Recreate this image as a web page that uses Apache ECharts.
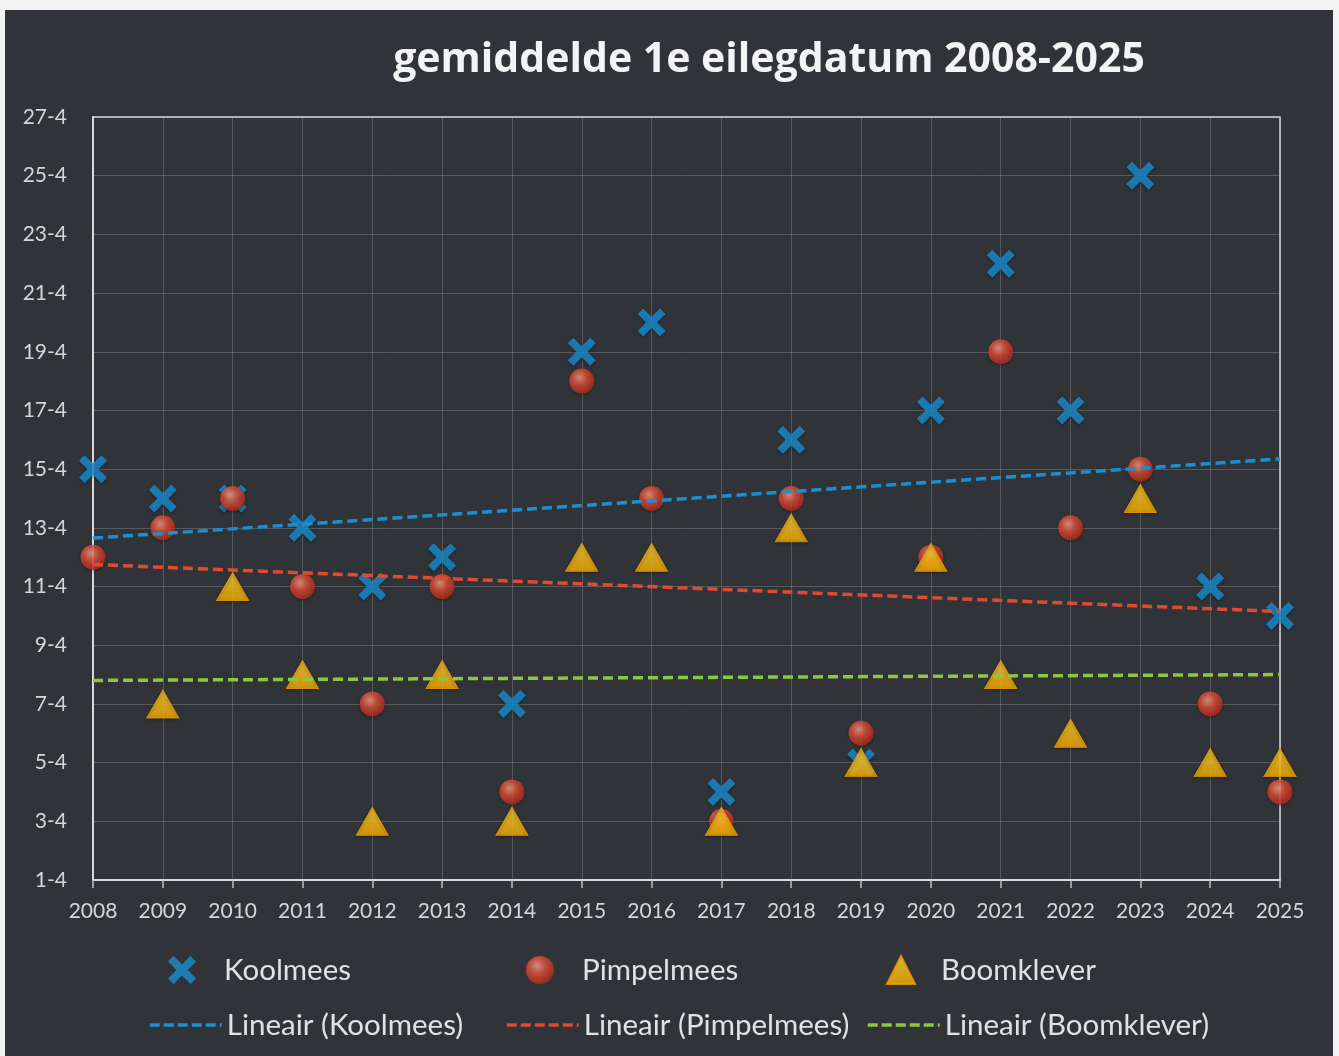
<!DOCTYPE html>
<html>
<head>
<meta charset="utf-8">
<script src="https://cdn.jsdelivr.net/npm/echarts@6/dist/echarts.min.js"></script>
<style>
html,body{margin:0;padding:0;background:#f3f3f3;width:1339px;height:1056px;overflow:hidden;}
#c{position:absolute;left:5px;top:10px;width:1328px;height:1046px;}
</style>
</head>
<body>
<div id="c"></div>
<script>
// ---- data (day of April) ----
var years = [2008,2009,2010,2011,2012,2013,2014,2015,2016,2017,2018,2019,2020,2021,2022,2023,2024,2025];
var koolmees   = [15,14,14,13,11,12,7,19,20,4,16,5,17,22,17,25,11,10];
var pimpelmees = [12,13,14,11,7,11,4,18,14,3,14,6,12,19,13,15,7,4];
var boomklever = [null,7,11,8,3,8,3,12,12,3,13,5,12,8,6,14,5,5];
// trend line end points (2008, 2025)
var trendYears = [2008, 2025];
var trendKool   = [12.65, 15.35];
var trendPimpel = [11.75, 10.15];
var trendBoom   = [7.8, 8.0];
var yTicks = [1,3,5,7,9,11,13,15,17,19,21,23,25,27];

function pairs(xs, ys){ var o=[]; for(var i=0;i<xs.length;i++){ if(ys[i]!==null) o.push([xs[i], ys[i]]); } return o; }

var xPath = 'path://M2,0 L5,3 L8,0 L10,2 L7,5 L10,8 L8,10 L5,7 L2,10 L0,8 L3,5 L0,2 Z';
var FONT = 'Lato';
var blue = '#1b8fd2', red = '#e04a30', green = '#8dc63f';

var circleFill = {type:'radial', x:0.4, y:0.35, r:0.65, colorStops:[{offset:0,color:'#f8a48c'},{offset:0.45,color:'#e2503a'},{offset:1,color:'#b02c1c'}]};
var triFill = {type:'linear', x:0, y:0, x2:0, y2:1, colorStops:[{offset:0,color:'#ffd438'},{offset:1,color:'#fcb000'}]};

var chart = echarts.init(document.getElementById('c'), null, {renderer:'canvas'});
function lt(pad){ return {color:'#e2e2e2', fontFamily:FONT, fontSize:29.5, padding:[0,0,0,pad]}; }
var dashLegend = {width:3.5, type:[10,4]};
var noSym = {opacity:0};
var option = {
  backgroundColor:'#303438',
  animation:false,
  title:{text:'gemiddelde 1e eilegdatum 2008-2025', left:759, top:25, textAlign:'center',
    textStyle:{color:'#f4f4f4', fontFamily:'Open Sans', fontWeight:'bold', fontSize:41}},
  grid:{left:88, right:53, top:107, bottom:176, show:true, borderColor:'#d8d8d8', borderWidth:1.5, backgroundColor:'transparent'},
  xAxis:{type:'value', min:2008, max:2025, interval:1,
    axisLine:{show:true, lineStyle:{color:'#d8d8d8', width:2}},
    axisTick:{show:true, length:8, lineStyle:{color:'#bfbfbf', width:1.5}},
    axisLabel:{color:'#d6d6d6', fontFamily:FONT, fontSize:21, margin:21, formatter:function(v){return String(v);}},
    splitLine:{show:true, lineStyle:{color:'rgba(200,200,200,0.26)', width:1}}},
  yAxis:{type:'value', min:yTicks[0], max:yTicks[yTicks.length-1], interval:2,
    axisLine:{show:true, lineStyle:{color:'#d8d8d8', width:2}},
    axisTick:{show:false},
    axisLabel:{color:'#d6d6d6', fontFamily:FONT, fontSize:21, margin:26, formatter:function(v){return v+'-4';}},
    splitLine:{show:true, lineStyle:{color:'rgba(200,200,200,0.26)', width:1}}},
  legend:[
    {data:['Koolmees'], left:158, top:940, itemWidth:28, itemHeight:28, textStyle:lt(23)},
    {data:['Pimpelmees'], left:516, top:940, itemWidth:28, itemHeight:28, textStyle:lt(23)},
    {data:['Boomklever'], left:876, top:940, itemWidth:28, itemHeight:28, textStyle:lt(21)},
    {data:['Lineair (Koolmees)'], left:138, top:995, itemWidth:72, itemHeight:14, lineStyle:dashLegend, itemStyle:noSym, textStyle:lt(0)},
    {data:['Lineair (Pimpelmees)'], left:495, top:995, itemWidth:72, itemHeight:14, lineStyle:dashLegend, itemStyle:noSym, textStyle:lt(0)},
    {data:['Lineair (Boomklever)'], left:856, top:995, itemWidth:72, itemHeight:14, lineStyle:dashLegend, itemStyle:noSym, textStyle:lt(0)}
  ],
  series:[
    {name:'Koolmees', type:'scatter', data:pairs(years,koolmees), symbol:xPath, symbolSize:28, z:2,
      itemStyle:{color:blue, shadowBlur:3, shadowColor:'rgba(0,0,0,0.5)', shadowOffsetY:1}},
    {name:'Pimpelmees', type:'scatter', data:pairs(years,pimpelmees), symbol:'circle', symbolSize:25, z:3,
      itemStyle:{color:circleFill, shadowBlur:3, shadowColor:'rgba(0,0,0,0.5)', shadowOffsetY:1}},
    {name:'Boomklever', type:'scatter', data:pairs(years,boomklever), symbol:'triangle', symbolSize:[32,28], z:4,
      itemStyle:{color:triFill, borderColor:'#f29c00', borderWidth:1, shadowBlur:3, shadowColor:'rgba(0,0,0,0.4)', shadowOffsetY:1}},
    {name:'Lineair (Koolmees)', type:'line', data:pairs(trendYears,trendKool), showSymbol:false, symbol:'none', z:5,
      itemStyle:{color:blue}, lineStyle:{color:blue, width:3.5, type:[10,5]}},
    {name:'Lineair (Pimpelmees)', type:'line', data:pairs(trendYears,trendPimpel), showSymbol:false, symbol:'none', z:5,
      itemStyle:{color:red}, lineStyle:{color:red, width:3.5, type:[10,5]}},
    {name:'Lineair (Boomklever)', type:'line', data:pairs(trendYears,trendBoom), showSymbol:false, symbol:'none', z:5,
      itemStyle:{color:green}, lineStyle:{color:green, width:3.5, type:[10,5]}}
  ]
};
chart.setOption(option);
</script>
</body>
</html>
